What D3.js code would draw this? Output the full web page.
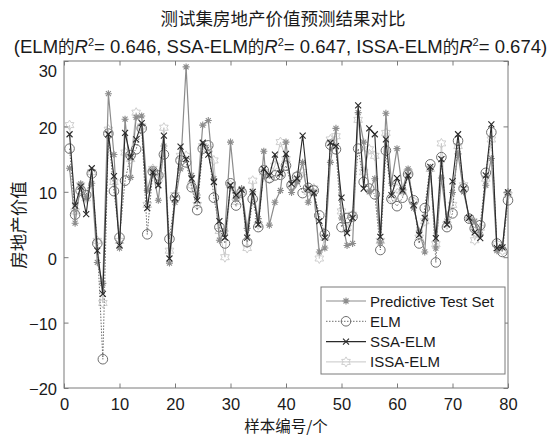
<!DOCTYPE html>
<html>
<head>
<meta charset="utf-8">
<style>
  body { margin: 0; background: #fff; }
  svg text { font-family: "Liberation Sans", Arial, sans-serif; fill: #1a1a1a; }
  .cjk { font-family: "Noto Sans CJK SC", sans-serif; }
</style>
</head>
<body>
<svg width="558" height="437"></svg>
<script src="https://d3js.org/d3.v7.min.js"></script>
<script>

const sampleIdx = d3.range(1, 81);

const predicted = [13.6, 5.2, 11.2, 9.0, 11.3, -0.8, -4.0, 25.0, 15.7, 1.4,
  21.1, 12.2, 21.4, 21.6, 10.2, 13.3, 8.7, 17.0, -0.9, 8.4,
  13.5, 29.1, 12.5, 9.5, 20.2, 20.9, 12.0, 2.6, 4.0, 17.6,
  9.0, 10.5, 4.4, 10.0, 5.9, 16.2, 4.9, 8.4, 10.2, 17.6,
  9.9, 11.5, 14.5, 8.4, 10.0, 0.8, 1.4, 14.5, 19.7, 6.0,
  1.8, 2.1, 22.1, 17.6, 10.0, 12.0, 2.3, 22.0, 11.3, 16.6,
  10.3, 13.5, 7.5, 4.0, 0.8, 13.5, 1.4, 12.1, 5.5, 9.9,
  15.8, 10.0, 6.0, 5.5, 3.5, 11.0, 15.1, 1.0, 1.5, 10.0];

const elm = [16.6, 6.5, 10.2, 9.5, 12.8, 2.1, -15.6, 18.9, 10.1, 3.0,
  11.7, 15.6, 16.5, 19.7, 3.5, 13.1, 12.5, 15.7, 2.8, 9.1,
  14.8, 14.5, 10.7, 7.2, 16.6, 17.1, 9.1, 4.6, 2.1, 11.3,
  7.9, 9.9, 2.3, 8.9, 4.6, 13.3, 12.1, 12.5, 12.6, 14.0,
  11.0, 12.3, 9.8, 10.6, 10.2, 6.4, 3.5, 17.2, 16.5, 4.6,
  6.0, 6.2, 16.6, 11.5, 10.5, 9.6, 1.1, 16.3, 8.9, 7.8,
  9.1, 12.7, 8.7, 2.1, 7.5, 14.2, -0.8, 15.3, 4.6, 6.7,
  17.8, 10.5, 5.9, 4.4, 4.9, 12.9, 19.1, 2.1, 0.8, 8.7];

const ssaElm = [18.8, 7.9, 10.8, 6.6, 13.6, 1.0, -5.6, 18.8, 12.4, 1.8,
  19.0, 15.3, 18.0, 20.5, 7.5, 13.0, 11.0, 18.6, -0.2, 9.0,
  16.9, 15.0, 12.0, 8.7, 17.5, 15.7, 11.5, 5.5, 3.0, 11.0,
  9.5, 10.3, 3.0, 10.0, 5.0, 13.5, 12.5, 15.7, 12.8, 15.8,
  11.2, 12.0, 18.6, 10.5, 9.8, 5.5, 3.0, 17.5, 17.0, 9.1,
  3.7, 6.0, 23.2, 10.5, 19.7, 18.8, 3.1, 18.0, 9.5, 12.1,
  10.2, 12.5, 8.0, 3.4, 6.0, 13.8, 2.9, 15.0, 5.0, 11.6,
  18.8, 10.5, 6.0, 3.8, 2.9, 12.5, 20.3, 1.4, 1.5, 9.9];

const issaElm = [20.2, 7.0, 11.0, 9.0, 13.0, 2.5, -7.0, 19.5, 11.5, 2.5,
  16.0, 15.0, 22.1, 20.0, 8.0, 13.5, 12.0, 19.8, 1.0, 9.5,
  15.5, 15.5, 11.0, 8.0, 17.0, 16.5, 14.8, 4.0, 0.0, 11.0,
  8.5, 10.0, 1.4, 11.7, 5.0, 13.0, 12.0, 14.0, 17.6, 15.0,
  11.0, 12.5, 13.0, 10.0, 10.5, -0.2, 3.0, 18.0, 18.5, 7.0,
  4.5, 6.5, 21.0, 13.0, 16.5, 15.5, 2.5, 19.0, 9.0, 10.5,
  10.0, 13.0, 8.5, 3.0, 5.5, 13.5, 2.0, 17.4, 5.0, 8.0,
  17.0, 11.0, 6.0, 2.6, 4.5, 12.0, 18.0, 2.0, 1.0, 9.5];

const seriesNames = ["Predictive Test Set", "ELM", "SSA-ELM", "ISSA-ELM"];
const xTicks = [0, 10, 20, 30, 40, 50, 60, 70, 80];
const yTicks = [-20, -10, 0, 10, 20, 30];

const svg = d3.select("svg");
const plotL = 64, plotR = 508, plotT = 61, plotB = 388;

const x = d3.scaleLinear().domain([0, 80]).range([plotL, plotR]);
const y = d3.scaleLinear().domain([-20, 30]).range([plotB, plotT]);

// series styles, drawn back to front
const styles = [
  { data: issaElm, color: "#c8c8c8", width: 1, dash: null, marker: "hex" },
  { data: elm, color: "#6e6e6e", width: 1, dash: "1.5,1.5", marker: "circle" },
  { data: predicted, color: "#8c8c8c", width: 1.2, dash: null, marker: "star" },
  { data: ssaElm, color: "#2a2a2a", width: 1.1, dash: null, marker: "x" }
];
const legendStyle = [styles[2], styles[1], styles[3], styles[0]];

function drawMarker(g, type, color) {
  if (type === "circle") {
    g.append("circle").attr("r", 4.8).attr("fill", "none")
      .attr("stroke", color).attr("stroke-width", 1);
  } else if (type === "x") {
    g.append("path").attr("d", "M-3,-3L3,3M-3,3L3,-3")
      .attr("stroke", color).attr("stroke-width", 1.1);
  } else if (type === "star") {
    g.append("path").attr("d", "M-3.5,0L3.5,0M0,-3.5L0,3.5M-2.5,-2.5L2.5,2.5M-2.5,2.5L2.5,-2.5")
      .attr("stroke", color).attr("stroke-width", 1.1);
  } else if (type === "hex") {
    const pts = d3.range(12).map(k => {
      const r = k % 2 === 0 ? 5 : 2.9;
      const a = k * Math.PI / 6 - Math.PI / 2;
      return [r * Math.cos(a), r * Math.sin(a)];
    });
    g.append("path").attr("d", "M" + pts.join("L") + "Z")
      .attr("fill", "none").attr("stroke", color).attr("stroke-width", 0.9);
  }
}

const line = d3.line().x((d, i) => x(sampleIdx[i])).y(d => y(d));

styles.forEach(s => {
  svg.append("path").datum(s.data)
    .attr("d", line)
    .attr("fill", "none")
    .attr("stroke", s.color)
    .attr("stroke-width", s.width)
    .attr("stroke-dasharray", s.dash);
  s.data.forEach((v, i) => {
    const g = svg.append("g").attr("transform", `translate(${x(sampleIdx[i])},${y(v)})`);
    drawMarker(g, s.marker, s.color);
  });
});

// axes box with inward ticks
const axisColor = "#7a7a7a";
svg.append("rect").attr("x", plotL).attr("y", plotT)
  .attr("width", plotR - plotL).attr("height", plotB - plotT)
  .attr("fill", "none").attr("stroke", axisColor).attr("stroke-width", 1);

const bottomAxis = svg.append("g").attr("transform", `translate(0,${plotB})`)
  .call(d3.axisBottom(x).tickValues(xTicks).tickSizeInner(-4.5).tickSizeOuter(0).tickPadding(10));
const topAxis = svg.append("g").attr("transform", `translate(0,${plotT})`)
  .call(d3.axisTop(x).tickValues(xTicks).tickSizeInner(-4.5).tickSizeOuter(0).tickFormat(""));
const leftAxis = svg.append("g").attr("transform", `translate(${plotL},0)`)
  .call(d3.axisLeft(y).tickValues(yTicks).tickSizeInner(-4.5).tickSizeOuter(0).tickPadding(7));
const rightAxis = svg.append("g").attr("transform", `translate(${plotR},0)`)
  .call(d3.axisRight(y).tickValues(yTicks).tickSizeInner(-4.5).tickSizeOuter(0).tickFormat(""));

[bottomAxis, topAxis, leftAxis, rightAxis].forEach(a => {
  a.select(".domain").remove();
  a.selectAll(".tick line").attr("stroke", axisColor);
  a.selectAll(".tick text").attr("font-size", 16.5)
    .attr("font-family", "Liberation Sans, Arial, sans-serif").attr("fill", "#1a1a1a");
});
leftAxis.selectAll(".tick text").attr("dy", d => d === 30 ? "0.95em" : "0.42em");

// titles
svg.append("text").attr("class", "cjk").attr("x", 283).attr("y", 25)
  .attr("text-anchor", "middle").attr("font-size", 17.5).attr("fill", "#333")
  .text("测试集房地产价值预测结果对比");

const sub = svg.append("text").attr("x", 280.5).attr("y", 53)
  .attr("text-anchor", "middle").attr("font-size", 18.5);
const r2 = [["ELM", "0.646"], ["SSA-ELM", "0.647"], ["ISSA-ELM", "0.674"]];
sub.append("tspan").text("(");
r2.forEach((d, i) => {
  sub.append("tspan").text(d[0]);
  sub.append("tspan").attr("class", "cjk").attr("font-size", 16.5).text("的");
  sub.append("tspan").attr("font-style", "italic").text("R");
  sub.append("tspan").attr("font-size", 11).attr("dy", -7).text("2");
  sub.append("tspan").attr("dy", 7).text("= " + d[1] + (i < 2 ? ", " : ")"));
});

svg.append("text").attr("class", "cjk")
  .attr("transform", "translate(24.5,225) rotate(-90)")
  .attr("text-anchor", "middle").attr("font-size", 17.5).attr("fill", "#404040")
  .text("房地产价值");

svg.append("text").attr("class", "cjk").attr("x", 286).attr("y", 432)
  .attr("text-anchor", "middle").attr("font-size", 15.5).attr("fill", "#404040")
  .text("样本编号/个");

// legend
const lg = svg.append("g");
lg.append("rect").attr("x", 321).attr("y", 287).attr("width", 184).attr("height", 87)
  .attr("fill", "#fff").attr("stroke", axisColor).attr("stroke-width", 1);
seriesNames.forEach((name, i) => {
  const s = legendStyle[i];
  const ly = 301 + i * 20.3;
  lg.append("line").attr("x1", 326).attr("x2", 366).attr("y1", ly).attr("y2", ly)
    .attr("stroke", s.color).attr("stroke-width", s.width).attr("stroke-dasharray", s.dash);
  drawMarker(lg.append("g").attr("transform", `translate(346,${ly})`), s.marker, s.color);
  lg.append("text").attr("x", 370).attr("y", ly + 5.5).attr("font-size", 15).text(name);
});

</script>
</body>
</html>
